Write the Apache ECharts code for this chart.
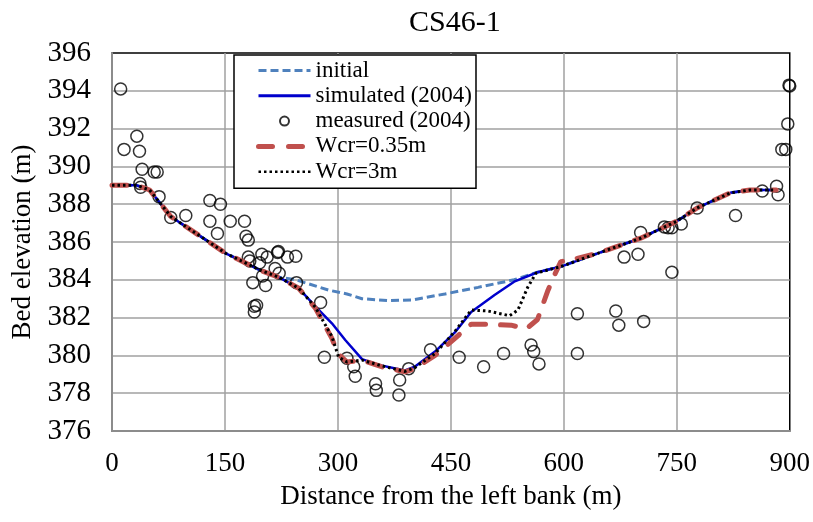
<!DOCTYPE html>
<html>
<head>
<meta charset="utf-8">
<script src="https://cdn.jsdelivr.net/npm/echarts@6/dist/echarts.min.js"></script>
<style>html,body{margin:0;padding:0;background:#fff}#c{width:813px;height:522px}</style>
</head>
<body>
<div id="c"></div>
<script>
// Data (distance m, elevation m)
const xTicks = [0, 150, 300, 450, 600, 750, 900];
const yTicks = [376, 378, 380, 382, 384, 386, 388, 390, 392, 394, 396];

const initial = [[0,389],[33,389],[50,388.75],[78,387.35],[125,386.1],[151,385.4],[174,384.96],[196,384.52],[222,384.13],[244,384.0],[288,383.45],[312,383.25],[332,383.0],[367,382.9],[398,382.93],[442,383.25],[486,383.6],[534,384.0],[565,384.4],[596,384.7],[645,385.4],[702,386.2],[750,387.1],[777,387.8],[821,388.6],[847,388.75],[880,388.75]];

const simulated = [[0,389],[33,389],[50,388.75],[78,387.35],[125,386.1],[151,385.4],[174,384.96],[196,384.52],[222,384.13],[248,383.55],[270,382.6],[292,381.7],[310,380.8],[332,379.8],[354,379.5],[389,379.2],[402,379.4],[429,380.2],[455,381.2],[477,382.3],[508,383.2],[534,383.9],[565,384.4],[596,384.7],[645,385.4],[702,386.2],[750,387.1],[777,387.8],[821,388.6],[847,388.75],[880,388.75]];

const measured = [[11.5,394.1],[16,390.9],[33,391.6],[36.5,390.8],[40,389.85],[56,389.7],[60,389.7],[37,389.1],[38,388.9],[62.5,388.4],[78,387.3],[98,387.4],[130,388.2],[144,388.0],[130,387.1],[157,387.1],[176,387.1],[140,386.45],[178,386.3],[181,386.1],[181,385.2],[183,385.0],[199,385.35],[206,385.2],[220,385.45],[221,385.5],[233,385.2],[244,385.25],[196,384.9],[216.6,384.6],[222,384.35],[187,383.85],[204,383.7],[200,384.2],[245,383.85],[189,382.6],[192,382.65],[189,382.3],[277,382.8],[282,379.9],[312,379.85],[321,379.4],[323,378.9],[350,378.5],[351,378.15],[382,378.7],[381,377.9],[394,379.3],[423,380.3],[461,379.9],[493.5,379.4],[520,380.1],[556.5,380.55],[560,380.2],[567,379.55],[618,382.2],[618,380.1],[669,382.35],[673,381.6],[706,381.8],[680,385.2],[698.5,385.35],[743.5,384.4],[702,386.5],[733.5,386.8],[738.5,386.75],[743.5,386.75],[756,386.95],[777,387.8],[828,387.4],[863.5,388.7],[882.5,388.95],[884.5,388.5],[889.5,390.9],[894.7,390.9],[897.4,392.25],[899,394.3],[900,394.25]];

const wcr035 = [[0,389],[33,389],[50,388.75],[78,387.35],[125,386.1],[151,385.4],[174,384.96],[196,384.52],[222,384.13],[248,383.55],[270,382.5],[292,380.9],[300,380.1],[312,379.65],[332,379.75],[358,379.4],[389,379.13],[402,379.3],[429,380.0],[464,381.2],[477,381.65],[499,381.65],[530,381.6],[550,381.4],[565,381.9],[579,383.45],[587,384.2],[596,384.96],[614,385.1],[645,385.4],[702,386.2],[750,387.1],[777,387.8],[821,388.6],[847,388.75],[882,388.75]];

const wcr3 = [[0,389],[33,389],[50,388.75],[78,387.35],[125,386.1],[151,385.4],[174,384.96],[196,384.52],[222,384.13],[248,383.55],[270,382.55],[292,381.0],[301,379.9],[312,379.65],[332,379.75],[358,379.45],[389,379.15],[402,379.35],[429,380.1],[455,381.25],[477,382.4],[499,382.35],[528,382.1],[539,382.4],[552,383.6],[563,384.35],[596,384.7],[645,385.4],[702,386.2],[750,387.1],[777,387.8],[821,388.6],[847,388.75],[882,388.75]];

const FONT = '"Liberation Serif", "Times New Roman", serif';
const noSym = { opacity: 0 };
const chart = echarts.init(document.getElementById('c'));
chart.setOption({
  animation: false,
  backgroundColor: '#fff',
  title: {
    text: 'CS46-1', left: 404, top: 3,
    textStyle: { fontFamily: FONT, fontSize: 30, fontWeight: 'normal', color: '#000' }
  },
  legend: {
    orient: 'vertical', left: 234, top: 55,
    backgroundColor: '#fff', borderColor: '#000', borderWidth: 1.5,
    padding: [3, 4, 4, 22],
    itemWidth: 52, itemHeight: 9, itemGap: 0.3,
    textStyle: { fontFamily: FONT, fontSize: 23, color: '#000', lineHeight: 25 },
    data: [
      { name: 'initial', itemStyle: noSym, lineStyle: { color: '#4F81BD', width: 3, type: [8, 4] } },
      { name: 'simulated (2004)', itemStyle: noSym, lineStyle: { color: '#0000CC', width: 3 } },
      { name: 'measured (2004)' },
      { name: 'Wcr=0.35m', itemStyle: noSym, lineStyle: { color: '#C0504D', width: 5, type: [14, 16], cap: 'round' } },
      { name: 'Wcr=3m', itemStyle: noSym, lineStyle: { color: '#000', width: 2.5, type: [2.5, 3] } }
    ]
  },
  grid: {
    left: 112, right: 20, top: 53, bottom: 91,
    show: true, borderColor: '#000', borderWidth: 1.5, backgroundColor: 'transparent'
  },
  xAxis: {
    type: 'value', min: 0, max: 900, interval: 150,
    name: 'Distance from the left bank (m)', nameLocation: 'middle', nameGap: 52,
    nameTextStyle: { fontFamily: FONT, fontSize: 27, color: '#000' },
    axisLine: { show: true, lineStyle: { color: '#8c8c8c', width: 2 } },
    axisTick: { show: false },
    axisLabel: { fontFamily: FONT, fontSize: 27, color: '#000', margin: 19,
      formatter: v => xTicks.includes(v) ? String(v) : '' },
    splitLine: { show: true, showMinLine: false, showMaxLine: false, lineStyle: { color: '#a0a0a0', width: 1.5 } }
  },
  yAxis: {
    type: 'value', min: 376, max: 396, interval: 2,
    name: 'Bed elevation (m)', nameLocation: 'middle', nameGap: 75,
    nameTextStyle: { fontFamily: FONT, fontSize: 27, color: '#000' },
    axisLine: { show: true, lineStyle: { color: '#8c8c8c', width: 2 } },
    axisTick: { show: false },
    axisLabel: { fontFamily: FONT, fontSize: 29, color: '#000', margin: 21,
      formatter: v => yTicks.includes(v) ? String(v) : '' },
    splitLine: { show: true, showMinLine: false, showMaxLine: false, lineStyle: { color: '#a0a0a0', width: 1.5 } }
  },
  series: [
    { name: 'initial', type: 'line', data: initial, symbol: 'none', z: 2,
      lineStyle: { color: '#4F81BD', width: 3, type: [8, 4] }, itemStyle: { color: '#4F81BD' } },
    { name: 'simulated (2004)', type: 'line', data: simulated, symbol: 'none', z: 3,
      lineStyle: { color: '#0000CC', width: 2.5 }, itemStyle: { color: '#0000CC' } },
    { name: 'measured (2004)', type: 'scatter', data: measured, symbol: 'circle', symbolSize: 12, z: 4,
      itemStyle: { color: 'rgba(255,255,255,0)', borderColor: '#000', borderWidth: 1.5 } },
    { name: 'Wcr=0.35m', type: 'line', data: wcr035, symbol: 'none', z: 5,
      lineStyle: { color: '#C0504D', width: 5, type: [15, 15], cap: 'round' }, itemStyle: { color: '#C0504D' } },
    { name: 'Wcr=3m', type: 'line', data: wcr3, symbol: 'none', z: 6,
      lineStyle: { color: '#000', width: 3, type: [2.5, 3] }, itemStyle: { color: '#000' } }
  ]
});
</script>
</body>
</html>
